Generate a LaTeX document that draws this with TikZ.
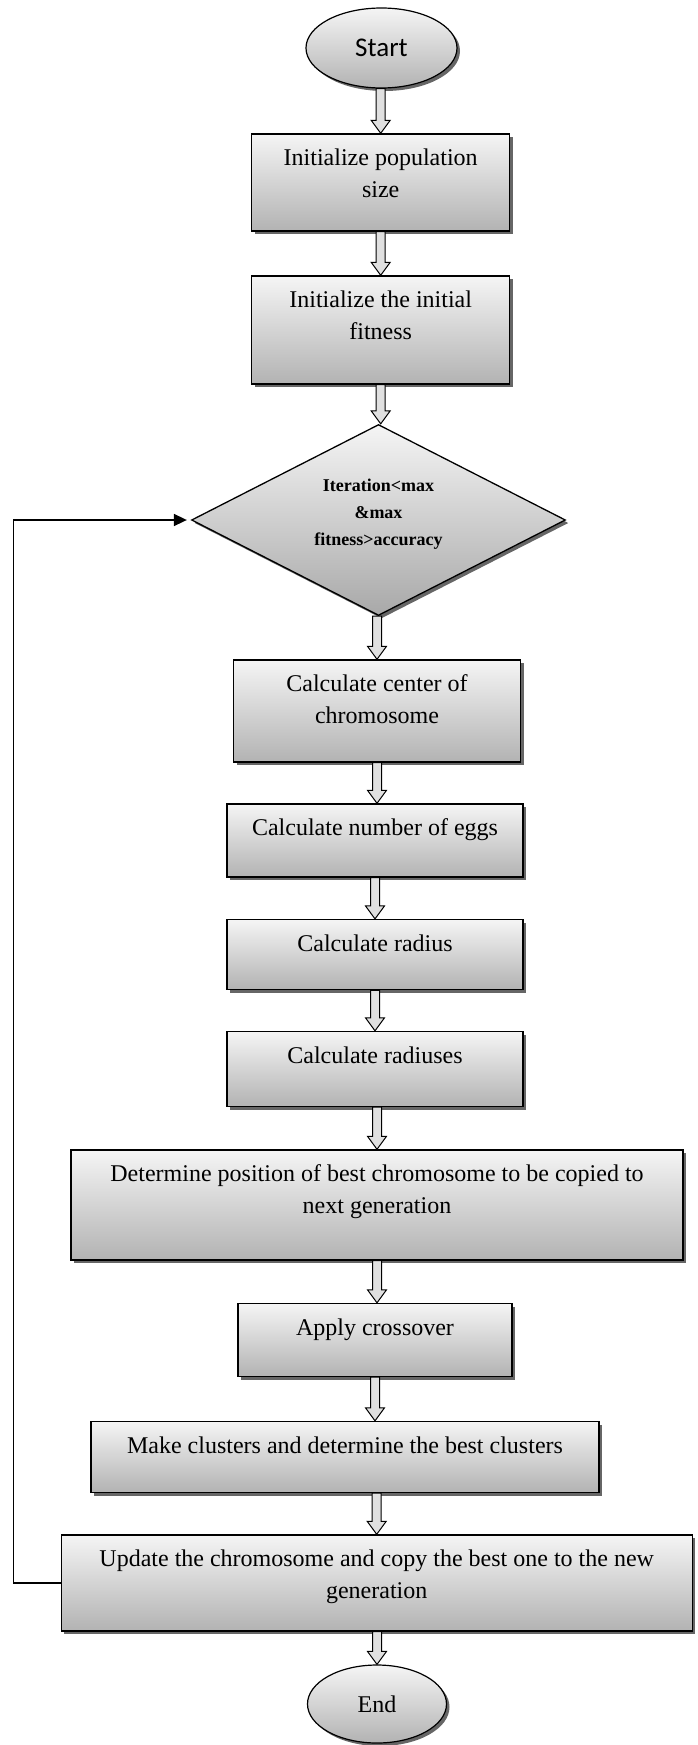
\documentclass[tikz,border=0pt]{standalone}
\usepackage{fontspec}
\setmainfont{Liberation Serif}
\newfontfamily\startfont{Carlito}
\usetikzlibrary{shapes.geometric,shadows,calc,arrows.meta}
\tikzset{
 shadowed/.style={drop shadow={shadow xshift=3pt, shadow yshift=-3pt, fill=black!60, opacity=1}},
 procbox/.style={rectangle, draw=black, line width=1.4pt, top color=black!4, bottom color=black!30, shadowed, inner sep=0pt},
 boxtext/.style={anchor=north, inner sep=0pt, yshift=-9.6pt, align=center, font=\fontsize{24}{32}\selectfont},
 terminal/.style={ellipse, draw=black, line width=1.2pt, top color=black!4, bottom color=black!30, shadowed, inner sep=0pt},
 decision/.style={diamond, aspect=2, draw=black, line width=1.3pt, top color=black!4, bottom color=black!34, shadowed, inner sep=0pt},
 diatext/.style={anchor=center, inner sep=0pt, yshift=6pt, align=center, font=\fontsize{18}{27}\selectfont\bfseries},
 blockarrow/.style={draw=black, line width=1pt, fill=black!12, line join=miter},
 feedback/.style={draw=black, line width=1.7pt, -{Triangle[length=13pt,width=12pt]}, shorten >=4pt}
}
\newcommand\flowarrow[3]{%
 \path[blockarrow] let \p1=(#1.south), \p2=(#2.north), \p3=(#3.center) in
  (\x3-4.5pt,\y1) -- (\x3-4.5pt,\y2+13pt) -- (\x3-9.5pt,\y2+13pt) -- (\x3,\y2)
  -- (\x3+9.5pt,\y2+13pt) -- (\x3+4.5pt,\y2+13pt) -- (\x3+4.5pt,\y1) -- cycle;}
\begin{document}
\begin{tikzpicture}[x=1pt,y=-1pt]
\useasboundingbox (0,0) rectangle (698,1745);
\node[terminal, minimum width=151pt, minimum height=80pt, font=\startfont\fontsize{27}{32}\selectfont] (start) at (381.5,48) {Start};
\node[procbox, minimum width=258pt, minimum height=97pt, label={[boxtext]north:{\strut Initialize population\\size}}] (b1) at (380.7,182.5) {};
\node[procbox, minimum width=258pt, minimum height=108pt, label={[boxtext]north:{\strut Initialize the initial\\fitness}}] (b2) at (380.7,330) {};
\node[decision, minimum width=374pt, minimum height=191pt, label={[diatext]center:{Iteration<max\\\&max\\fitness>accuracy}}] (dia) at (378.5,520) {};
\node[procbox, minimum width=287pt, minimum height=102pt, label={[boxtext]north:{\strut Calculate center of\\chromosome}}] (b3) at (377,711) {};
\node[procbox, minimum width=296pt, minimum height=73pt, label={[boxtext]north:{\strut Calculate number of eggs}}] (b4) at (375,840.5) {};
\node[procbox, minimum width=296pt, minimum height=70pt, label={[boxtext]north:{\strut Calculate radius}}] (b5) at (375,954.6) {};
\node[procbox, minimum width=296pt, minimum height=75pt, label={[boxtext]north:{\strut Calculate radiuses}}] (b6) at (375,1069) {};
\node[procbox, minimum width=612pt, minimum height=110pt, label={[boxtext]north:{\strut Determine position of best chromosome to be copied to\\next generation}}] (b7) at (377,1205) {};
\node[procbox, minimum width=274pt, minimum height=73pt, label={[boxtext]north:{\strut Apply crossover}}] (b8) at (375,1340) {};
\node[procbox, minimum width=508pt, minimum height=71pt, label={[boxtext]north:{\strut Make clusters and determine the best clusters}}] (b9) at (345,1457) {};
\node[procbox, minimum width=631pt, minimum height=96pt, label={[boxtext]north:{\strut Update the chromosome and copy the best one to the new\\generation}}] (b10) at (376.7,1583) {};
\node[terminal, minimum width=139pt, minimum height=78pt, font=\fontsize{24}{32}\selectfont] (end) at (377,1704) {End};
\flowarrow{start}{b1}{b1}
\flowarrow{b1}{b2}{b1}
\flowarrow{b2}{dia}{b2}
\flowarrow{dia}{b3}{b3}
\flowarrow{b3}{b4}{b3}
\flowarrow{b4}{b5}{b4}
\flowarrow{b5}{b6}{b5}
\flowarrow{b6}{b7}{b7}
\flowarrow{b7}{b8}{b7}
\flowarrow{b8}{b9}{b8}
\flowarrow{b9}{b10}{b10}
\flowarrow{b10}{end}{end}
\coordinate (lc) at (13.4,1588);
\draw[feedback] (b10.west) -- (b10.west -| lc) |- (dia.west);
\end{tikzpicture}
\end{document}
